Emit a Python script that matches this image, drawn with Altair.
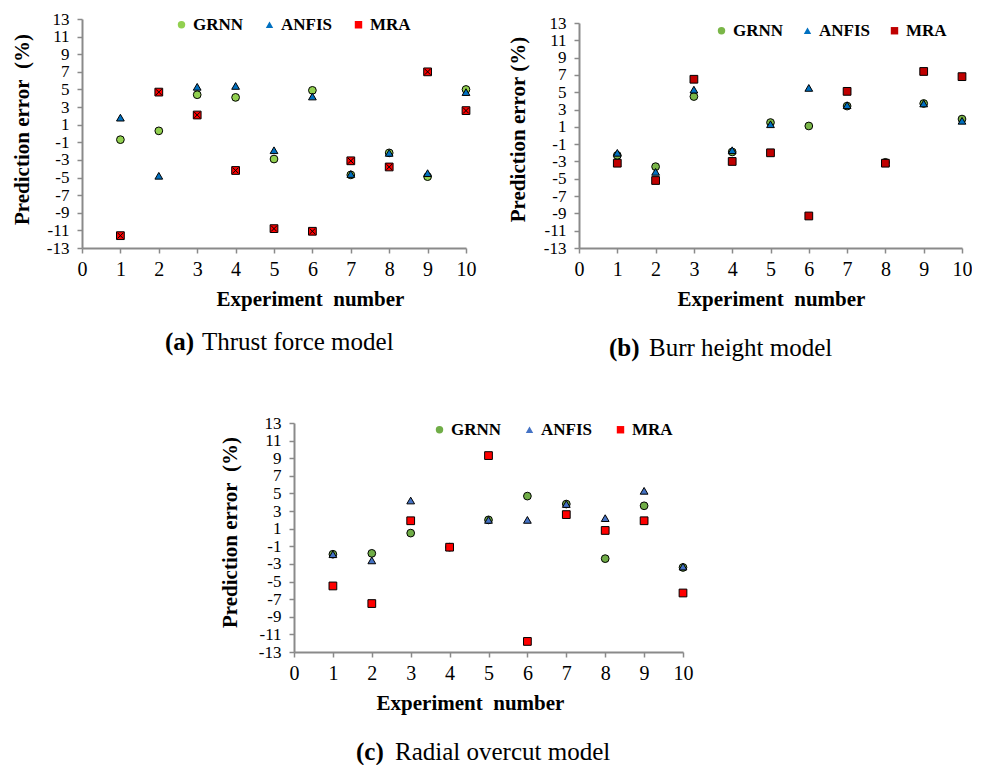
import altair as alt
import pandas as pd

SERIF = "Liberation Serif"

experiments = list(range(1, 11))
models = ["GRNN", "ANFIS", "MRA"]
x_ticks = list(range(0, 11))
y_ticks = list(range(-13, 14, 2))

# (a) Thrust force model: prediction error (%)
thrust_grnn = [-0.7, 0.3, 4.4, 4.1, -2.9, 4.9, -4.7, -2.2, -4.9, 5.0]
thrust_anfis = [1.8, -4.8, 5.3, 5.4, -1.9, 4.2, -4.6, -2.2, -4.5, 4.7]
thrust_mra = [-11.6, 4.7, 2.1, -4.2, -10.8, -11.1, -3.1, -3.8, 7.0, 2.6]

# (b) Burr height model: prediction error (%)
burr_grnn = [-2.3, -3.6, 4.5, -1.9, 1.5, 1.1, 3.4, -3.1, 3.7, 1.9]
burr_anfis = [-2.0, -4.2, 5.3, -1.7, 1.3, 5.5, 3.5, -3.1, 3.7, 1.7]
burr_mra = [-3.2, -5.2, 6.5, -3.0, -2.0, -9.3, 5.1, -3.2, 7.4, 6.8]

# (c) Radial overcut model: prediction error (%)
overcut_grnn = [-1.9, -1.8, 0.5, -1.1, 2.0, 4.7, 3.8, -2.4, 3.6, -3.4]
overcut_anfis = [-1.9, -2.6, 4.2, -1.1, 2.0, 2.0, 3.8, 2.2, 5.3, -3.3]
overcut_mra = [-5.5, -7.5, 1.9, -1.1, 9.3, -11.8, 2.6, 0.8, 1.9, -6.3]

# red square with a black cross through it
CROSSED_SQUARE = "M-1,-1H1V1H-1Z M-0.75,-0.75L0.75,0.75 M0.75,-0.75L-0.75,0.75"

AXIS_GREY = "#8a8a8a"
NBSP = "\u00a0"


def panel(grnn, anfis, mra, colors, mra_shape, width, height, y_range,
          y_label_size, legend_x, legend_y, legend_gap, xtitle_x, ytitle_x,
          ytitle_y, y_title, cap_letter, cap_text, cap_x1, cap_x2, cap_y):
    df = pd.DataFrame({
        "exp": experiments * 3,
        "err": grnn + anfis + mra,
        "model": ["GRNN"] * 10 + ["ANFIS"] * 10 + ["MRA"] * 10,
    })
    legend = alt.Legend(
        title=None, orient="none", legendX=legend_x, legendY=legend_y,
        direction="horizontal", columns=3, gridAlign="each",
        columnPadding=legend_gap,
        labelFont=SERIF, labelFontSize=17, labelFontWeight="bold",
        labelColor="black", labelOffset=3, symbolSize=55,
        symbolStrokeColor="black", symbolStrokeWidth=1, padding=0,
    )
    if y_range is None:
        y_scale = alt.Scale(domain=[-13, 13], nice=False, zero=False)
    else:
        y_scale = alt.Scale(domain=[-13, 13], nice=False, zero=False, range=y_range)

    axis_common = dict(
        grid=False, domainColor=AXIS_GREY, domainWidth=2, tickColor=AXIS_GREY,
        tickWidth=1.5, tickSize=5, labelFont=SERIF, labelColor="black",
        labelFlush=False, titleFont=SERIF, titleFontSize=21,
        titleFontWeight="bold", titleColor="black",
    )

    points = alt.Chart(df).mark_point(
        filled=True, stroke="black", strokeWidth=1, size=60, opacity=1, clip=False
    ).encode(
        x=alt.X("exp:Q", scale=alt.Scale(domain=[0, 10], nice=False, zero=False),
                axis=alt.Axis(values=x_ticks, title="Experiment" + NBSP + " number",
                              labelFontSize=20, labelPadding=6,
                              titleX=xtitle_x, titleY=57, titleAlign="center",
                              titleBaseline="alphabetic", **axis_common)),
        y=alt.Y("err:Q", scale=y_scale,
                axis=alt.Axis(values=y_ticks, title=y_title,
                              labelExpr="'' + datum.value",
                              labelFontSize=y_label_size, labelOverlap=False,
                              labelPadding=8,
                              titleX=ytitle_x, titleY=ytitle_y, titleAlign="center",
                              titleBaseline="bottom", **axis_common)),
        shape=alt.Shape("model:N", scale=alt.Scale(
            domain=models, range=["circle", "triangle-up", mra_shape]), legend=legend),
        fill=alt.Fill("model:N", scale=alt.Scale(domain=models, range=colors),
                      legend=legend),
    )

    cap_df = pd.DataFrame({"letter": [cap_letter], "text": [cap_text]})
    cap_a = alt.Chart(cap_df).mark_text(
        align="left", baseline="alphabetic", font=SERIF, fontSize=25,
        fontWeight="bold", color="black"
    ).encode(text="letter:N", x=alt.value(cap_x1), y=alt.value(cap_y))
    cap_b = alt.Chart(cap_df).mark_text(
        align="left", baseline="alphabetic", font=SERIF, fontSize=25,
        color="black"
    ).encode(text="text:N", x=alt.value(cap_x2), y=alt.value(cap_y))

    return alt.layer(points, cap_a, cap_b).properties(width=width, height=height)


TITLE_WIDE = "Prediction error" + NBSP + " (%)"
TITLE_NARROW = "Prediction error (%)"

chart_a = panel(thrust_grnn, thrust_anfis, thrust_mra,
                ["#92D050", "#0070C0", "#FF0000"], CROSSED_SQUARE,
                384, 229, None, 17, 91, -3, 17, 228, -50, 110, TITLE_WIDE,
                "(a)", "Thrust force model", 83, 120, 331)

chart_b = panel(burr_grnn, burr_anfis, burr_mra,
                ["#7AB648", "#0070C0", "#C00000"], "square",
                383, 229, [229, 4], 17, 134, 3, 15, 192, -51, 110, TITLE_NARROW,
                "(b)", "Burr height model", 30, 70, 337)

chart_c = panel(overcut_grnn, overcut_anfis, overcut_mra,
                ["#70AD47", "#4472C4", "#FF0000"], "square",
                389, 229, None, 17, 137, -2, 19, 176, -54, 109, TITLE_WIDE,
                "(c)", "Radial overcut model", 62, 101, 337)

spacer = alt.Chart(pd.DataFrame({"v": [0]})).mark_point(opacity=0).encode(
    x=alt.value(0), y=alt.value(0)
).properties(width=136, height=10)

top_row = alt.hconcat(chart_a, chart_b, spacing=30).resolve_scale(
    shape="independent", fill="independent"
).resolve_legend(shape="independent", fill="independent")

bottom_row = alt.hconcat(spacer, chart_c, spacing=0).resolve_scale(
    shape="independent", fill="independent"
).resolve_legend(shape="independent", fill="independent")

chart = alt.vconcat(top_row, bottom_row, spacing=53).resolve_scale(
    shape="independent", fill="independent"
).resolve_legend(
    shape="independent", fill="independent"
).properties(
    padding={"left": 10, "top": 10, "right": 0, "bottom": 0}
).configure(
    background="white"
).configure_view(
    strokeWidth=0
)

chart.save("out.html", embed_options={"renderer": "svg", "actions": False})
